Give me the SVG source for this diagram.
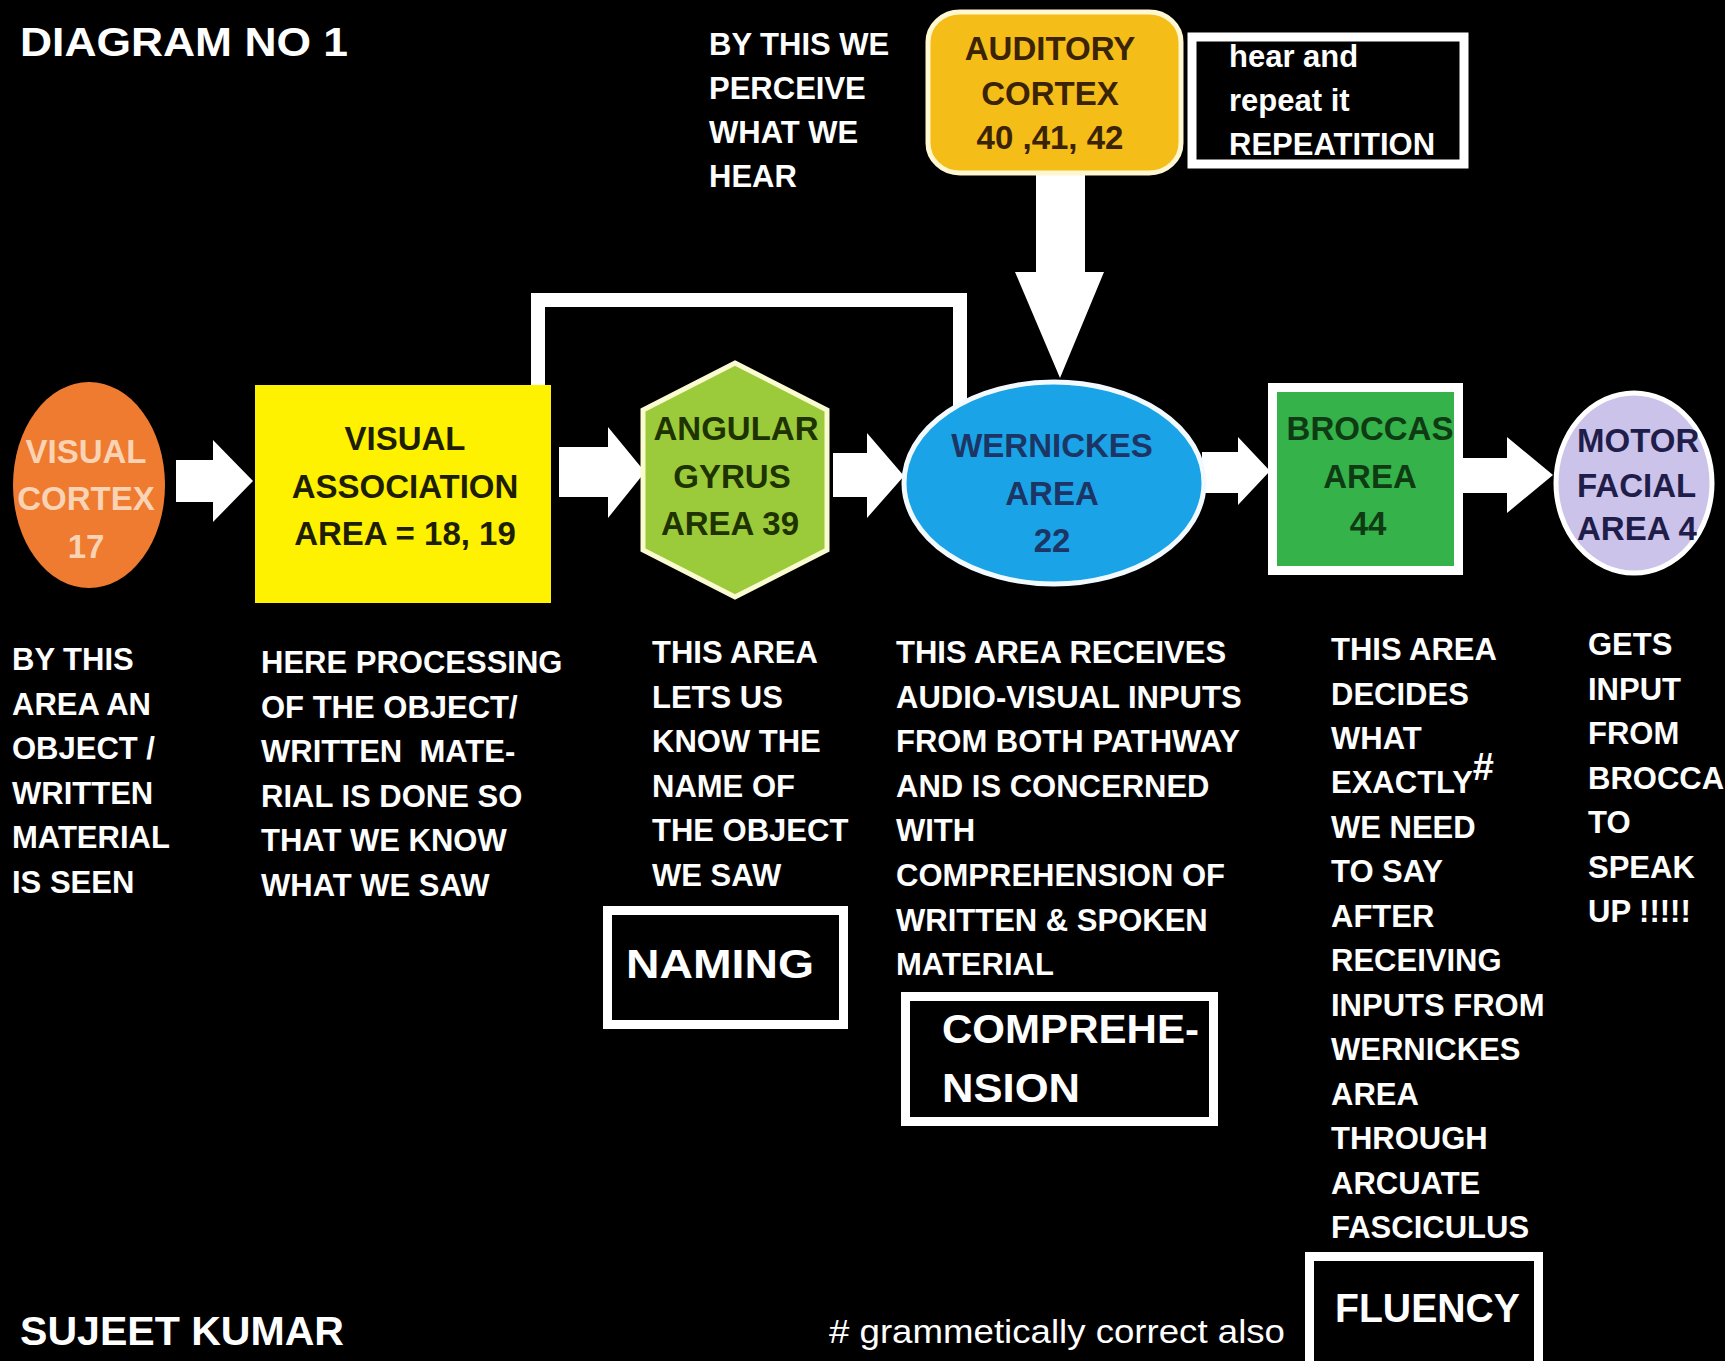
<svg xmlns="http://www.w3.org/2000/svg" width="1725" height="1361" viewBox="0 0 1725 1361">
<style>
text{font-family:"Liberation Sans",Arial,sans-serif;font-weight:bold}
.body{font-size:31px;fill:#ffffff}
.node{font-size:33px;text-anchor:middle}
.big{font-size:41px;fill:#ffffff}
.arrow{fill:#ffffff}
.box{fill:#000000;stroke:#ffffff;stroke-width:9}
</style>
<rect x="0" y="0" width="1725" height="1361" fill="#000000"/>

<g id="connectors">
  <polyline points="538,387 538,300 960,300 960,410" fill="none" stroke="#ffffff" stroke-width="14"/>
  <polygon class="arrow" points="176,460 213,460 213,440 253,481 213,522 213,502 176,502"/>
  <polygon class="arrow" points="559,447 608,447 608,427 645,472 608,518 608,497 559,497"/>
  <polygon class="arrow" points="833,453 867,453 867,433 904,476 867,518 867,497 833,497"/>
  <polygon class="arrow" points="1202,452 1238,452 1238,437 1270,471 1238,505 1238,493 1202,493"/>
  <polygon class="arrow" points="1462,458 1507,458 1507,437 1553,475 1507,513 1507,493 1462,493"/>
  <polygon class="arrow" points="1036,170 1085,170 1085,272 1104,272 1060,378 1015,272 1036,272"/>
</g>

<g id="title">
  <text class="big" x="20" y="56" font-size="42" textLength="328" lengthAdjust="spacingAndGlyphs">DIAGRAM NO 1</text>
</g>

<g id="auditory-note">
  <text class="body" font-size="32"><tspan x="709" y="55">BY THIS WE</tspan><tspan x="709" y="99">PERCEIVE</tspan><tspan x="709" y="143">WHAT WE</tspan><tspan x="709" y="187">HEAR</tspan></text>
</g>

<g id="auditory-cortex">
  <rect x="928" y="12" width="253" height="161" rx="32" ry="30" fill="#F5BD18" stroke="#FFF6D2" stroke-width="5"/>
  <text class="node" fill="#3B2306" font-size="32"><tspan x="1050" y="60">AUDITORY</tspan><tspan x="1050" y="105">CORTEX</tspan><tspan x="1050" y="149">40 ,41, 42</tspan></text>
</g>

<g id="repetition">
  <rect class="box" x="1192" y="37" width="272" height="127"/>
  <text class="body" font-size="31"><tspan x="1229" y="67">hear and</tspan><tspan x="1229" y="111">repeat it</tspan><tspan x="1229" y="155">REPEATITION</tspan></text>
</g>

<g id="visual-cortex">
  <ellipse cx="89" cy="485" rx="76" ry="103" fill="#EE7B30"/>
  <text class="node" fill="#FAD3B4"><tspan x="86" y="463">VISUAL</tspan><tspan x="86" y="510">CORTEX</tspan><tspan x="86" y="558">17</tspan></text>
</g>

<g id="visual-association">
  <rect x="255" y="385" width="296" height="218" fill="#FFF200"/>
  <text class="node" fill="#1E1E00"><tspan x="405" y="450">VISUAL</tspan><tspan x="405" y="498">ASSOCIATION</tspan><tspan x="405" y="545">AREA = 18, 19</tspan></text>
</g>

<g id="angular-gyrus">
  <polygon points="735,363 827,410 827,550 735,597 643,550 643,410" fill="#9BCB3A" stroke="#FAFBD0" stroke-width="5"/>
  <text class="node" fill="#1E3300"><tspan x="736" y="440">ANGULAR</tspan><tspan x="732" y="488">GYRUS</tspan><tspan x="730" y="535">AREA 39</tspan></text>
</g>

<g id="wernickes">
  <ellipse cx="1054" cy="483" rx="150" ry="101" fill="#1AA3E6" stroke="#F2FAFF" stroke-width="5"/>
  <text class="node" fill="#1C3564"><tspan x="1052" y="457">WERNICKES</tspan><tspan x="1052" y="505">AREA</tspan><tspan x="1052" y="552">22</tspan></text>
</g>

<g id="broccas">
  <rect x="1272.5" y="387.5" width="186" height="183" fill="#35B249" stroke="#ffffff" stroke-width="9"/>
  <text class="node" fill="#0E3B13"><tspan x="1370" y="440">BROCCAS</tspan><tspan x="1370" y="488">AREA</tspan><tspan x="1368" y="535">44</tspan></text>
</g>

<g id="motor-facial">
  <ellipse cx="1634" cy="483" rx="78" ry="90" fill="#CCC3EA" stroke="#ffffff" stroke-width="5"/>
  <text class="node" fill="#1F1D4A" style="text-anchor:start"><tspan x="1577" y="452">MOTOR</tspan><tspan x="1577" y="497">FACIAL</tspan><tspan x="1577" y="540">AREA 4</tspan></text>
</g>

<g id="desc-visual-cortex">
  <text class="body"><tspan x="12" y="670">BY THIS</tspan><tspan x="12" y="714.5">AREA AN</tspan><tspan x="12" y="759">OBJECT /</tspan><tspan x="12" y="803.5">WRITTEN</tspan><tspan x="12" y="848">MATERIAL</tspan><tspan x="12" y="892.5">IS SEEN</tspan></text>
</g>

<g id="desc-visual-association">
  <text class="body" xml:space="preserve"><tspan x="261" y="673">HERE PROCESSING</tspan><tspan x="261" y="717.5">OF THE OBJECT/</tspan><tspan x="261" y="762">WRITTEN  MATE-</tspan><tspan x="261" y="806.5">RIAL IS DONE SO</tspan><tspan x="261" y="851">THAT WE KNOW</tspan><tspan x="261" y="895.5">WHAT WE SAW</tspan></text>
</g>

<g id="desc-angular">
  <text class="body"><tspan x="652" y="663">THIS AREA</tspan><tspan x="652" y="707.5">LETS US</tspan><tspan x="652" y="752">KNOW THE</tspan><tspan x="652" y="796.5">NAME OF</tspan><tspan x="652" y="841">THE OBJECT</tspan><tspan x="652" y="885.5">WE SAW</tspan></text>
</g>

<g id="naming">
  <rect class="box" x="607.5" y="910.5" width="236" height="114"/>
  <text class="big" x="626" y="978" textLength="188" lengthAdjust="spacingAndGlyphs">NAMING</text>
</g>

<g id="desc-wernickes">
  <text class="body"><tspan x="896" y="663">THIS AREA RECEIVES</tspan><tspan x="896" y="707.6">AUDIO-VISUAL INPUTS</tspan><tspan x="896" y="752.2">FROM BOTH PATHWAY</tspan><tspan x="896" y="796.8">AND IS CONCERNED</tspan><tspan x="896" y="841.4">WITH</tspan><tspan x="896" y="886">COMPREHENSION OF</tspan><tspan x="896" y="930.6">WRITTEN &amp; SPOKEN</tspan><tspan x="896" y="975.2">MATERIAL</tspan></text>
</g>

<g id="comprehension">
  <rect class="box" x="905.5" y="996.5" width="308" height="125"/>
  <text class="big" x="942" y="1043" textLength="257" lengthAdjust="spacingAndGlyphs">COMPREHE-</text>
  <text class="big" x="942" y="1102" textLength="138" lengthAdjust="spacingAndGlyphs">NSION</text>
</g>

<g id="desc-broccas">
  <text class="body"><tspan x="1331" y="660">THIS AREA</tspan><tspan x="1331" y="704.5">DECIDES</tspan><tspan x="1331" y="749">WHAT</tspan><tspan x="1331" y="793.4">EXACTLY</tspan><tspan dy="-13" font-size="38">#</tspan><tspan x="1331" y="837.8">WE NEED</tspan><tspan x="1331" y="882.3">TO SAY</tspan><tspan x="1331" y="926.8">AFTER</tspan><tspan x="1331" y="971.2">RECEIVING</tspan><tspan x="1331" y="1015.7">INPUTS FROM</tspan><tspan x="1331" y="1060.1">WERNICKES</tspan><tspan x="1331" y="1104.6">AREA</tspan><tspan x="1331" y="1149">THROUGH</tspan><tspan x="1331" y="1193.5">ARCUATE</tspan><tspan x="1331" y="1238">FASCICULUS</tspan></text>
</g>

<g id="fluency">
  <rect class="box" x="1309.5" y="1256.5" width="229" height="110"/>
  <text class="big" x="1335" y="1322" font-size="42" textLength="185" lengthAdjust="spacingAndGlyphs">FLUENCY</text>
</g>

<g id="desc-motor">
  <text class="body"><tspan x="1588" y="655">GETS</tspan><tspan x="1588" y="699.5">INPUT</tspan><tspan x="1588" y="744">FROM</tspan><tspan x="1588" y="788.5">BROCCA</tspan><tspan x="1588" y="833">TO</tspan><tspan x="1588" y="877.5">SPEAK</tspan><tspan x="1588" y="922">UP !!!!!</tspan></text>
</g>

<g id="footer">
  <text class="big" x="20" y="1345" font-size="40" textLength="324" lengthAdjust="spacingAndGlyphs">SUJEET KUMAR</text>
  <text x="829" y="1343" font-size="34" fill="#ffffff" style="font-weight:normal" textLength="456" lengthAdjust="spacingAndGlyphs"># grammetically correct also</text>
</g>
</svg>
